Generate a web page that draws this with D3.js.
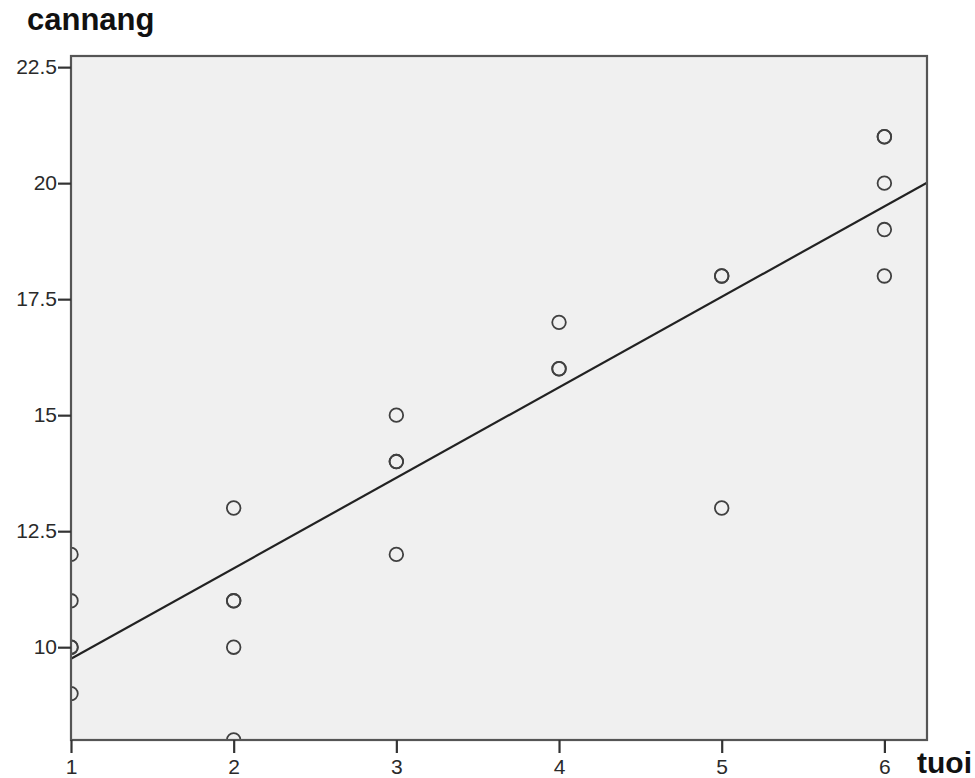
<!DOCTYPE html>
<html><head><meta charset="utf-8">
<script src="https://cdn.jsdelivr.net/npm/d3@7"></script>
<style>body{margin:0;background:#fff;} svg{display:block;}</style>
</head><body>
<svg id="chart" width="975" height="778"></svg>
<script>
// Data (duplicates drawn twice = darker circles)
const tuoi    = [1,1,1,1,1, 2,2,2,2,2, 3,3,3,3, 4,4,4, 5,5,5, 6,6,6,6,6];
const cannang = [12,11,10,10,9, 13,11,11,10,8, 15,14,14,12, 17,16,16, 18,18,13, 21,21,20,19,18];
const xTicks = [1,2,3,4,5,6];
const yTicks = [10,12.5,15,17.5,20,22.5];
const fitLine = [7.8, 1.95]; // intercept, slope of fitted line
const xTitle = "tuoi", yTitle = "cannang";

const svg = d3.select("#chart");
const L = 71, R = 927, T = 56, B = 740;
const x = d3.scaleLinear().domain([1, 6.262]).range([L, R]);
const y = d3.scaleLinear().domain([8, 22.74]).range([B, T]);

svg.append("defs").append("clipPath").attr("id","clip")
  .append("rect").attr("x",L).attr("y",T).attr("width",R-L).attr("height",B-T);

svg.append("rect").attr("x",L).attr("y",T).attr("width",R-L).attr("height",B-T)
  .attr("fill","#f0f0f0");

const g = svg.append("g").attr("clip-path","url(#clip)");
g.selectAll("circle").data(tuoi).join("circle")
  .attr("cx",(d)=>x(d)).attr("cy",(d,i)=>y(cannang[i])).attr("r",6.8)
  .attr("fill","none").attr("stroke","#404040").attr("stroke-width",1.8);

const xd = x.domain();
g.append("line")
  .attr("x1",x(xd[0])).attr("y1",y(fitLine[0]+fitLine[1]*xd[0]))
  .attr("x2",x(xd[1])).attr("y2",y(fitLine[0]+fitLine[1]*xd[1]))
  .attr("stroke","#222").attr("stroke-width",2.2);

svg.append("rect").attr("x",L).attr("y",T).attr("width",R-L).attr("height",B-T)
  .attr("fill","none").attr("stroke","#555").attr("stroke-width",2.2);

const font = "Liberation Sans, Arial, sans-serif";
const xAxis = svg.append("g").attr("transform",`translate(0,${B})`)
  .call(d3.axisBottom(x).tickValues(xTicks).tickFormat(d3.format("d")).tickSize(13).tickPadding(6));
const yAxis = svg.append("g").attr("transform",`translate(${L},0)`)
  .call(d3.axisLeft(y).tickValues(yTicks).tickFormat(d=>String(d)).tickSize(13).tickPadding(1));
[xAxis,yAxis].forEach(a=>{
  a.select(".domain").remove();
  a.selectAll(".tick line").attr("stroke","#333").attr("stroke-width",2.2);
  a.selectAll(".tick text").attr("fill","#2a2a2a").style("font-family",font).style("font-size","21px");
});

svg.append("text").attr("x",27).attr("y",30).text(yTitle)
  .style("font-family",font).style("font-size","31px").style("font-weight","bold").attr("fill","#111");
svg.append("text").attr("x",917).attr("y",773).text(xTitle)
  .style("font-family",font).style("font-size","30px").style("font-weight","bold").attr("fill","#111");
</script>
</body></html>
